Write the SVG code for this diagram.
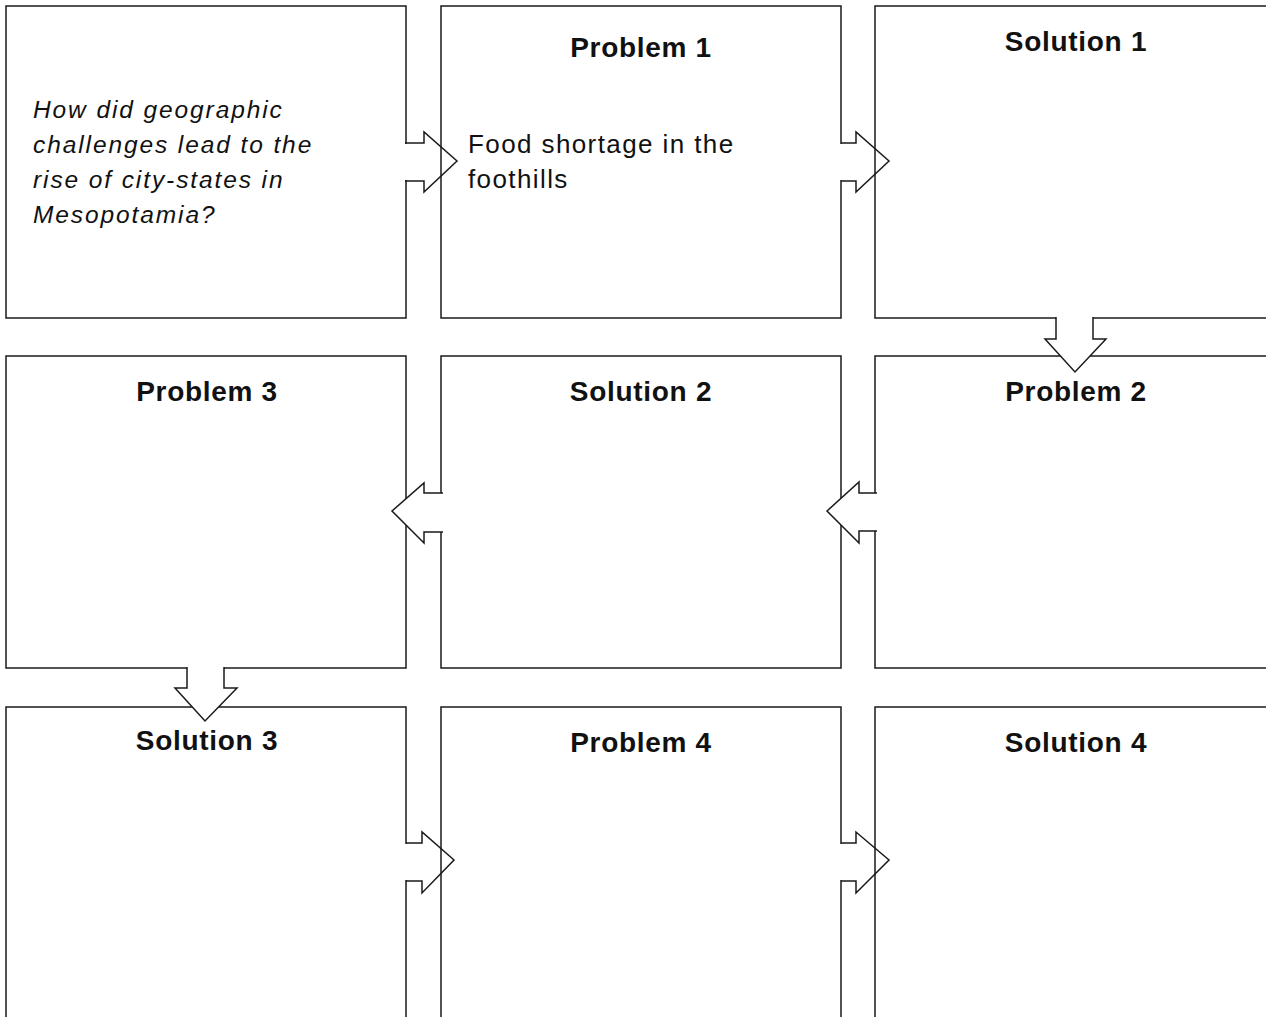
<svg xmlns="http://www.w3.org/2000/svg" width="1266" height="1017" viewBox="0 0 1266 1017">
<style>
.box{fill:none;stroke:#1a1a1a;stroke-width:1.5}
.arr{fill:none;stroke:#1a1a1a;stroke-width:1.5;stroke-linejoin:miter}
.arrf{fill:#fff;stroke:#1a1a1a;stroke-width:1.5;stroke-linejoin:miter}
.mask{fill:#fff;stroke:none}
.h{font-family:"Liberation Sans",Arial,sans-serif;font-weight:bold;font-size:28px;letter-spacing:0.7px;text-anchor:middle;fill:#111}
.q{font-family:"Liberation Sans",Arial,sans-serif;font-style:italic;font-size:24.5px;letter-spacing:1.9px;fill:#111}
.t{font-family:"Liberation Sans",Arial,sans-serif;font-size:26px;letter-spacing:1.4px;fill:#111}
</style>
<rect width="1266" height="1017" fill="#fff"/>
<g id="question">
<rect class="box" x="6" y="6" width="400" height="312"/>
<text class="q" x="33" y="118">How did geographic</text>
<text class="q" x="33" y="153">challenges lead to the</text>
<text class="q" x="33" y="188">rise of city-states in</text>
<text class="q" x="33" y="223">Mesopotamia?</text>
</g>
<g id="problem1">
<rect class="box" x="441" y="6" width="400" height="312"/>
<text class="h" x="641" y="57">Problem 1</text>
<text class="t" x="468" y="153">Food shortage in the</text>
<text class="t" x="468" y="188">foothills</text>
</g>
<g id="solution1">
<rect class="box" x="875" y="6" width="400" height="312"/>
<text class="h" x="1076" y="51">Solution 1</text>
</g>
<g id="problem3">
<rect class="box" x="6" y="356" width="400" height="312"/>
<text class="h" x="207" y="401">Problem 3</text>
</g>
<g id="solution2">
<rect class="box" x="441" y="356" width="400" height="312"/>
<text class="h" x="641" y="401">Solution 2</text>
</g>
<g id="problem2">
<rect class="box" x="875" y="356" width="400" height="312"/>
<text class="h" x="1076" y="401">Problem 2</text>
</g>
<g id="solution3">
<rect class="box" x="6" y="707" width="400" height="330"/>
<text class="h" x="207" y="750">Solution 3</text>
</g>
<g id="problem4">
<rect class="box" x="441" y="707" width="400" height="330"/>
<text class="h" x="641" y="752">Problem 4</text>
</g>
<g id="solution4">
<rect class="box" x="875" y="707" width="400" height="330"/>
<text class="h" x="1076" y="752">Solution 4</text>
</g>
<g id="connectors">
<!-- question -> problem1 -->
<rect class="mask" x="403" y="144" width="21" height="36"/>
<path class="arr" d="M405,143 H424 V132 L457,161 L424,192 V181 H405"/>
<!-- problem1 -> solution1 -->
<rect class="mask" x="838" y="144" width="18" height="36"/>
<path class="arr" d="M841,143 H856 V132 L889,161 L856,192 V181 H841"/>
<!-- solution1 -> problem2 -->
<path class="arrf" d="M1056,317 V339 H1045 L1075,372 L1106,339 H1093 V317"/>
<!-- problem2 -> solution2 -->
<path class="arrf" d="M877,493 H859 V482 L827,511 L859,543 V531 H877"/>
<!-- solution2 -> problem3 -->
<path class="arrf" d="M443,493 H424 V483 L392,511 L424,543 V532 H443"/>
<!-- problem3 -> solution3 -->
<path class="arrf" d="M187,667 V688 H175 L205,721 L237,688 H224 V667"/>
<!-- solution3 -> problem4 -->
<rect class="mask" x="403" y="844" width="19" height="36"/>
<path class="arr" d="M406,843 H422 V832 L454,860 L422,893 V881 H406"/>
<!-- problem4 -> solution4 -->
<rect class="mask" x="838" y="844" width="18" height="36"/>
<path class="arr" d="M841,843 H856 V832 L889,860 L856,893 V881 H841"/>
</g>
</svg>
